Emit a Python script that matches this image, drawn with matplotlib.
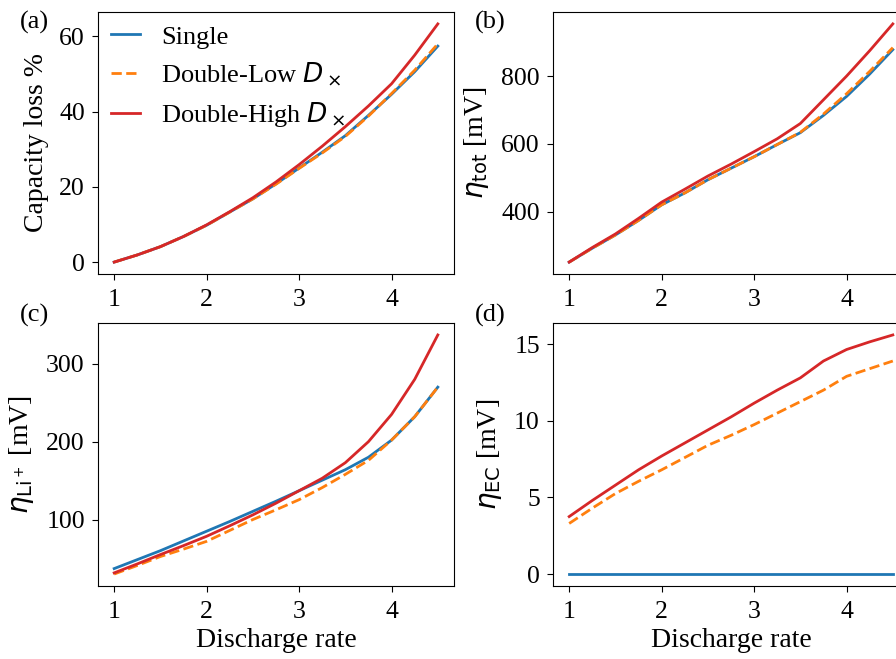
import numpy as np
import matplotlib
matplotlib.use("Agg")
import matplotlib.pyplot as plt

plt.rcParams['font.family'] = ['Liberation Serif', 'DejaVu Serif']
plt.rcParams['mathtext.fontset'] = 'dejavusans'

# discharge rate (C)
rate = [1.0, 1.25, 1.5, 1.75, 2.0, 2.25, 2.5, 2.75, 3.0, 3.25, 3.5, 3.75, 4.0, 4.25, 4.5]

# (a) capacity loss %
cap_single = [0, 1.9, 4.1, 6.8, 9.8, 13.3, 16.8, 20.8, 25.0, 29.2, 33.6, 39.0, 44.6, 50.6, 57.4]
cap_low = [0, 1.9, 4.1, 6.8, 9.8, 13.3, 16.8, 20.7, 24.9, 29.0, 33.4, 38.8, 44.8, 51.0, 58.0]
cap_high = [0, 1.9, 4.1, 6.8, 9.9, 13.4, 17.1, 21.3, 25.9, 30.8, 36.0, 41.5, 47.4, 55.0, 63.3]

# (b) total overpotential [mV]
tot_single = [251, 292, 331, 374, 420, 455, 494, 528, 562, 598, 633, 684, 740, 806, 878]
tot_low = [251, 292, 331, 374, 420, 455, 494, 528, 562, 598, 634, 688, 748, 814, 884]
tot_high = [251, 294, 334, 380, 428, 466, 505, 540, 577, 615, 660, 730, 800, 875, 954]

# (c) Li+ overpotential [mV]
li_single = [37, 48.5, 60, 72.5, 85, 97.5, 110.5, 123.5, 137, 150.5, 164, 180, 202, 232, 270]
li_low = [30, 41, 52.5, 62, 72, 86, 100, 112.5, 125.5, 141, 158, 176, 202, 232, 270]
li_high = [31.5, 43, 55, 66.5, 78.5, 92, 106, 121, 137, 153, 173, 200, 235, 280, 337]

# (d) EC overpotential [mV]
ec_single = [0] * 15
ec_low = [3.3, 4.3, 5.25, 6.05, 6.8, 7.6, 8.4, 9.05, 9.75, 10.5, 11.25, 12.0, 12.9, 13.4, 13.9]
ec_high = [3.75, 4.8, 5.8, 6.8, 7.7, 8.55, 9.4, 10.25, 11.15, 12.0, 12.8, 13.9, 14.65, 15.15, 15.6]

W, H = 896, 659
fig = plt.figure(figsize=(W / 100, H / 100), dpi=100)

def box(l, t, r, b):
    return [l / W, 1 - b / H, (r - l) / W, (b - t) / H]

axa = fig.add_axes(box(98, 12, 454, 274))
axb = fig.add_axes(box(553, 12, 909, 274))
axc = fig.add_axes(box(98, 323, 454, 586))
axd = fig.add_axes(box(553, 323, 909, 586))

panels = [
    (axa, cap_single, cap_low, cap_high, 'Capacity loss %', '(a)'),
    (axb, tot_single, tot_low, tot_high, r'$\eta_{\mathrm{tot}}$ [mV]', '(b)'),
    (axc, li_single, li_low, li_high, r'$\eta_{\mathrm{Li}^+}$ [mV]', '(c)'),
    (axd, ec_single, ec_low, ec_high, r'$\eta_{\mathrm{EC}}$ [mV]', '(d)'),
]

for ax, s, lo, hi, ylab, tag in panels:
    ax.plot(rate, s, color='tab:blue', lw=2, label='Single')
    ax.plot(rate, lo, color='tab:orange', lw=2, ls='--', label=r'Double-Low $D_\times$')
    ax.plot(rate, hi, color='tab:red', lw=2, label=r'Double-High $D_\times$')
    ax.set_ylabel(ylab, fontsize=20, labelpad=7)
    ax.tick_params(labelsize=18.5, length=4.5)
    ax.tick_params(axis='x', pad=6)
    ax.tick_params(axis='y', pad=5)
    ax.set_xticks([1, 2, 3, 4])
    ax.text(-0.22, 1.03 if tag in ('(c)', '(d)') else 0.96, tag, transform=ax.transAxes,
            fontsize=19, va='center', ha='left')

axa.set_yticks([0, 20, 40, 60])
axb.set_yticks([400, 600, 800])
axc.set_yticks([100, 200, 300])
axd.set_yticks([0, 5, 10, 15])

axc.set_xlabel('Discharge rate', fontsize=20, labelpad=4)
axd.set_xlabel('Discharge rate', fontsize=20, labelpad=4)

axa.legend(loc='upper left', frameon=False, fontsize=19, handlelength=1.1,
           handletextpad=0.8, labelspacing=0.45, borderaxespad=0.1)

fig.savefig('out.png', dpi=100)
